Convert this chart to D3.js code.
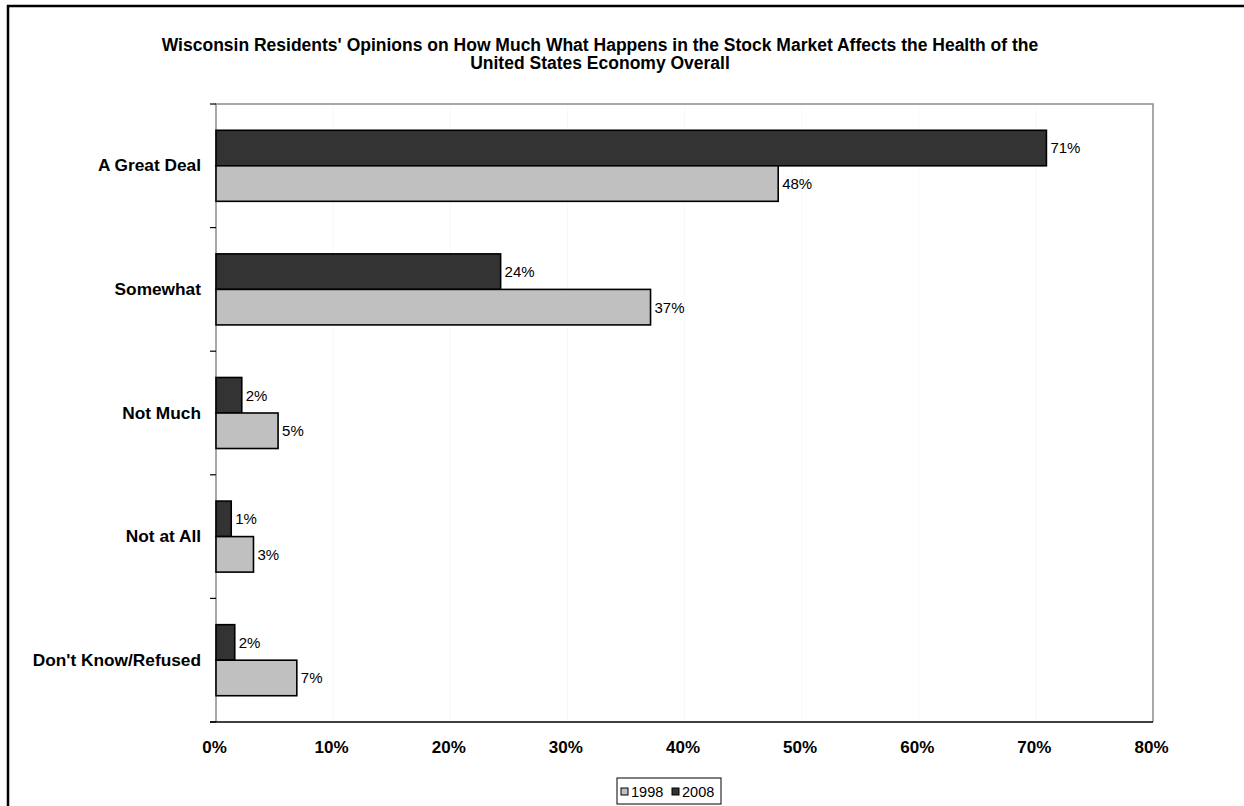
<!DOCTYPE html>
<html>
<head>
<meta charset="utf-8">
<script src="https://cdn.jsdelivr.net/npm/d3@7"></script>
<style>
  html, body { margin: 0; padding: 0; background: #fff; }
  svg { display: block; font-family: "Liberation Sans", Arial, Helvetica, sans-serif; }
</style>
</head>
<body>
<svg id="chart" width="1244" height="806"></svg>
<script>
const titleLines = [
  "Wisconsin Residents' Opinions on How Much What Happens in the Stock Market Affects the Health of the",
  "United States Economy Overall"
];
const categories = ["A Great Deal", "Somewhat", "Not Much", "Not at All", "Don't Know/Refused"];
const seriesNames = ["2008", "1998"];
const values2008 = [70.9, 24.3, 2.2, 1.3, 1.6];
const values1998 = [48.0, 37.1, 5.3, 3.2, 6.9];
const valueLabels2008 = ["71%", "24%", "2%", "1%", "2%"];
const valueLabels1998 = ["48%", "37%", "5%", "3%", "7%"];
const xTicks = [0, 10, 20, 30, 40, 50, 60, 70, 80];
const legendNames = ["1998", "2008"];

const colors = { "2008": "#333333", "1998": "#c0c0c0" };

const svg = d3.select("#chart");
const plot = { left: 216, right: 1153, top: 104, bottom: 722 };

// outer frame
svg.append("rect")
  .attr("x", 8).attr("y", 6)
  .attr("width", 1250).attr("height", 820)
  .attr("fill", "none").attr("stroke", "#000").attr("stroke-width", 2.5);

// title
const title = svg.append("text")
  .attr("text-anchor", "middle")
  .attr("font-weight", "bold")
  .attr("font-size", 17.5)
  .attr("fill", "#000");
titleLines.forEach((t, i) => {
  title.append("tspan").attr("x", 600).attr("y", 51 + i * 18).text(t);
});

const x = d3.scaleLinear().domain([0, 80]).range([plot.left, plot.right]);
const y0 = d3.scaleBand().domain(categories).range([plot.top, plot.bottom]).padding(0);
const y1 = d3.scaleBand().domain(seriesNames).range([0, y0.bandwidth()])
  .paddingInner(0).paddingOuter(0.74);

// gridlines (very faint)
svg.append("g").selectAll("line")
  .data(xTicks.filter(t => t > 0 && t < 80))
  .join("line")
  .attr("x1", d => x(d)).attr("x2", d => x(d))
  .attr("y1", plot.top).attr("y2", plot.bottom)
  .attr("stroke", "#f8f8f8").attr("stroke-width", 1);

// plot border (gray top/right/left)
svg.append("path")
  .attr("d", `M${plot.left},${plot.bottom} V${plot.top} H${plot.right} V${plot.bottom}`)
  .attr("fill", "none").attr("stroke", "#8c8c8c").attr("stroke-width", 1.5);

// bars
const rows = categories.map((c, i) => ({
  cat: c,
  items: [
    { s: "2008", v: values2008[i], lab: valueLabels2008[i] },
    { s: "1998", v: values1998[i], lab: valueLabels1998[i] }
  ]
}));

const g = svg.append("g");
const groups = g.selectAll("g.cat").data(rows).join("g")
  .attr("class", "cat")
  .attr("transform", d => `translate(0,${y0(d.cat)})`);

groups.selectAll("rect").data(d => d.items).join("rect")
  .attr("x", x(0))
  .attr("y", d => y1(d.s))
  .attr("width", d => x(d.v) - x(0))
  .attr("height", y1.bandwidth())
  .attr("fill", d => colors[d.s])
  .attr("stroke", "#000").attr("stroke-width", 1.6);

groups.selectAll("text").data(d => d.items).join("text")
  .attr("x", d => x(d.v) + 4)
  .attr("y", d => y1(d.s) + y1.bandwidth() / 2)
  .attr("dy", "0.36em")
  .attr("font-size", 15)
  .attr("fill", "#000")
  .text(d => d.lab);

// y axis (category labels)
const yAxis = d3.axisLeft(y0).tickSize(0).tickPadding(15);
const yg = svg.append("g").attr("transform", `translate(${plot.left},0)`).call(yAxis);
yg.select(".domain").remove();
yg.selectAll("text").attr("font-size", 17.3).attr("font-weight", "bold")
  .attr("font-family", "'Liberation Sans', Arial, sans-serif").attr("fill", "#000");

// category boundary tick marks
const bounds = categories.map(c => y0(c)).concat([plot.bottom]);
svg.append("g").selectAll("line").data(bounds).join("line")
  .attr("x1", plot.left - 6).attr("x2", plot.left)
  .attr("y1", d => d).attr("y2", d => d)
  .attr("stroke", "#000").attr("stroke-width", 1.2);

// x axis
const xAxis = d3.axisBottom(x).tickValues(xTicks).tickSize(0).tickPadding(19)
  .tickFormat(d => d + "%");
const xg = svg.append("g").attr("transform", `translate(-2,${plot.bottom})`).call(xAxis);
xg.select(".domain").remove();
xg.selectAll("text").attr("font-size", 17).attr("font-weight", "bold")
  .attr("font-family", "'Liberation Sans', Arial, sans-serif").attr("fill", "#000");

svg.append("line")
  .attr("x1", plot.left - 6).attr("x2", plot.right)
  .attr("y1", plot.bottom).attr("y2", plot.bottom)
  .attr("stroke", "#000").attr("stroke-width", 1.6);

// legend
const leg = svg.append("g").attr("transform", "translate(617,778)");
leg.append("rect").attr("x", 0).attr("y", 0).attr("width", 104).attr("height", 26)
  .attr("fill", "#fff").attr("stroke", "#000").attr("stroke-width", 1);
const legX = [4, 55];
legendNames.forEach((n, i) => {
  leg.append("rect").attr("x", legX[i]).attr("y", 10).attr("width", 7).attr("height", 7)
    .attr("fill", colors[n]).attr("stroke", "#000").attr("stroke-width", 1);
  leg.append("text").attr("x", legX[i] + 10).attr("y", 13.5).attr("dy", "0.36em")
    .attr("font-size", 14.5).attr("fill", "#000").text(n);
});
</script>
</body>
</html>
